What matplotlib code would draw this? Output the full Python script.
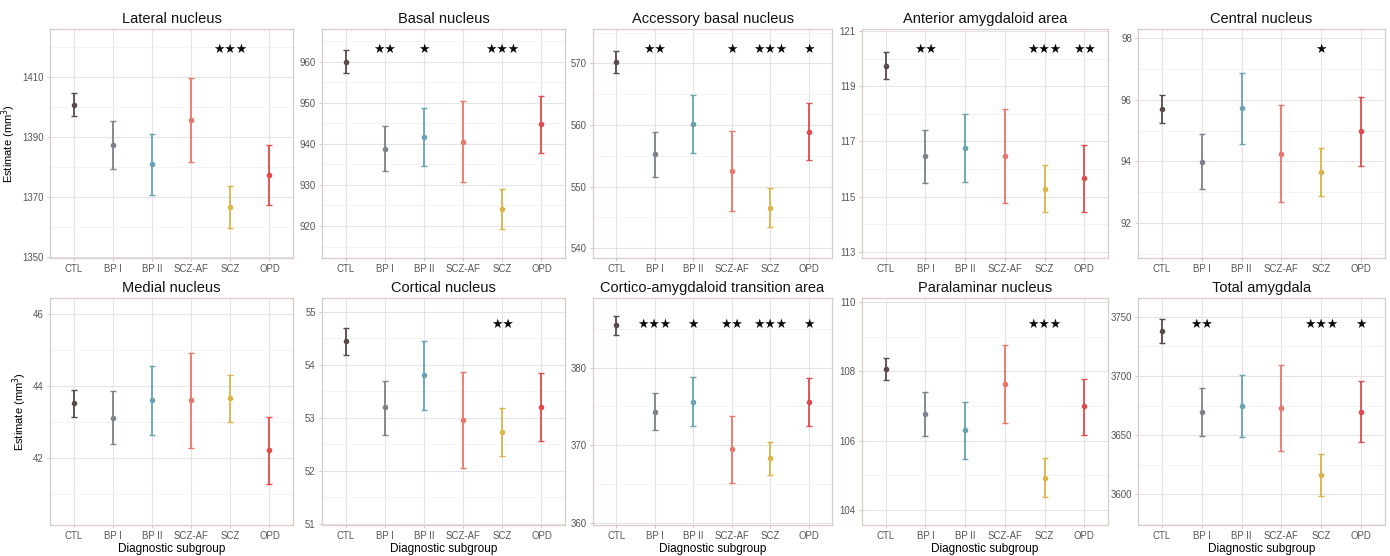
import matplotlib
matplotlib.use("Agg")
import matplotlib.pyplot as plt
import numpy as np
from matplotlib.ticker import MultipleLocator

plt.rcParams['font.family'] = ['Liberation Sans', 'DejaVu Sans']

groups = ["CTL", "BP I", "BP II", "SCZ-AF", "SCZ", "OPD"]
colors = ["#5b4a47", "#7d838c", "#6aa2b3", "#e8776c", "#dcb54a", "#e04b4b"]

regions = ["Lateral nucleus", "Basal nucleus", "Accessory basal nucleus",
           "Anterior amygdaloid area", "Central nucleus",
           "Medial nucleus", "Cortical nucleus", "Cortico-amygdaloid transition area",
           "Paralaminar nucleus", "Total amygdala"]

lateral_est = [1400.7, 1387.3, 1381.0, 1395.7, 1366.7, 1377.2]
lateral_lo = [1396.9, 1379.3, 1370.8, 1381.7, 1359.7, 1367.2]
lateral_hi = [1404.7, 1395.2, 1391.1, 1409.8, 1373.7, 1387.3]

basal_est = [960.0, 938.8, 941.8, 940.5, 924.2, 944.8]
basal_lo = [957.3, 933.3, 934.7, 930.8, 919.3, 937.9]
basal_hi = [962.9, 944.3, 948.8, 950.4, 929.0, 951.7]

accbasal_est = [570.2, 555.3, 560.1, 552.5, 546.6, 558.9]
accbasal_lo = [568.4, 551.6, 555.4, 546.0, 543.4, 554.3]
accbasal_hi = [572.1, 558.9, 564.8, 559.0, 549.8, 563.5]

anterior_est = [119.74, 116.47, 116.77, 116.47, 115.28, 115.66]
anterior_lo = [119.25, 115.51, 115.52, 114.77, 114.45, 114.45]
anterior_hi = [120.22, 117.42, 117.99, 118.16, 116.13, 116.86]

central_est = [95.69, 93.99, 95.73, 94.25, 93.65, 94.97]
central_lo = [95.25, 93.10, 94.58, 92.69, 92.86, 93.85]
central_hi = [96.14, 94.89, 96.86, 95.83, 94.43, 96.09]

medial_est = [43.52, 43.12, 43.60, 43.60, 43.66, 42.22]
medial_lo = [43.15, 42.39, 42.65, 42.29, 43.01, 41.29]
medial_hi = [43.89, 43.86, 44.55, 44.91, 44.31, 43.14]

cortical_est = [54.44, 53.20, 53.80, 52.96, 52.73, 53.20]
cortical_lo = [54.19, 52.68, 53.14, 52.06, 52.28, 52.57]
cortical_hi = [54.70, 53.70, 54.45, 53.86, 53.18, 53.85]

cat_est = [385.46, 374.32, 375.61, 369.51, 368.30, 375.57]
cat_lo = [384.17, 371.91, 372.43, 365.16, 366.11, 372.43]
cat_hi = [386.62, 376.77, 378.75, 373.81, 370.45, 378.62]

paralaminar_est = [108.07, 106.76, 106.30, 107.63, 104.94, 106.99]
paralaminar_lo = [107.76, 106.13, 105.48, 106.50, 104.38, 106.18]
paralaminar_hi = [108.40, 107.40, 107.12, 108.77, 105.50, 107.78]

total_est = [3738.4, 3669.6, 3674.7, 3673.3, 3616.7, 3669.9]
total_lo = [3727.9, 3649.5, 3648.4, 3636.8, 3598.9, 3644.2]
total_hi = [3748.0, 3689.7, 3701.0, 3709.2, 3634.2, 3695.7]

stars = [
    ["", "", "", "", "***", ""],
    ["", "**", "*", "", "***", ""],
    ["", "**", "", "*", "***", "*"],
    ["", "**", "", "", "***", "**"],
    ["", "", "", "", "*", ""],
    ["", "", "", "", "", ""],
    ["", "", "", "", "**", ""],
    ["", "***", "*", "**", "***", "*"],
    ["", "", "", "", "***", ""],
    ["", "**", "", "", "***", "*"],
]

est_all = [lateral_est, basal_est, accbasal_est, anterior_est, central_est,
           medial_est, cortical_est, cat_est, paralaminar_est, total_est]
lo_all = [lateral_lo, basal_lo, accbasal_lo, anterior_lo, central_lo,
          medial_lo, cortical_lo, cat_lo, paralaminar_lo, total_lo]
hi_all = [lateral_hi, basal_hi, accbasal_hi, anterior_hi, central_hi,
          medial_hi, cortical_hi, cat_hi, paralaminar_hi, total_hi]

# axis settings (limits, major step, tick offset)
ylims = [(1349.7, 1426.0), (912.2, 968.0), (538.4, 575.6), (112.78, 121.07), (90.86, 98.3),
         (40.14, 46.44), (50.98, 55.26), (359.7, 389.0), (103.57, 110.12), (3574, 3766)]
steps = [20, 10, 10, 2, 2, 2, 1, 10, 2, 50]
offsets = [10, 0, 0, 1, 0, 0, 0, 0, 0, 0]

W, H = 1390, 556
fig = plt.figure(figsize=(W / 100, H / 100), dpi=100)

col_lr = [(50, 293), (322, 565), (593, 832), (862, 1108), (1138, 1385)]
row_tb = [(29, 258), (298, 525)]

x = np.arange(len(groups))
for i in range(10):
    r, c = divmod(i, 5)
    l, rr = col_lr[c]
    t, b = row_tb[r]
    ax = fig.add_axes([l / W, 1 - b / H, (rr - l) / W, (b - t) / H])
    for j in range(len(groups)):
        e = est_all[i][j]
        ax.errorbar(x[j], e, yerr=[[e - lo_all[i][j]], [hi_all[i][j] - e]],
                    fmt='o', color=colors[j], ms=3.0, elinewidth=1.3,
                    capsize=2.2, capthick=1.0, zorder=3)
    ax.set_xlim(-0.6, 5.6)
    ax.set_ylim(*ylims[i])
    ax.set_xticks(x)
    ax.set_xticklabels(groups)
    ax.yaxis.set_major_locator(MultipleLocator(steps[i], offset=offsets[i]))
    ax.yaxis.set_minor_locator(MultipleLocator(steps[i] / 2, offset=offsets[i]))
    ax.grid(True, which='major', color='#e4e4e4', lw=0.8, zorder=0)
    ax.grid(True, which='minor', axis='y', color='#f1f1f1', lw=0.6, zorder=0)
    ax.set_axisbelow(True)
    ax.tick_params(axis='both', which='major', labelsize=6.9, colors='#c8b8b4',
                   labelcolor='#555555', length=2.5, width=0.6, pad=2)
    ax.tick_params(axis='y', which='minor', length=0)
    for s in ax.spines.values():
        s.set_color('#dccbc6')
        s.set_linewidth(0.9)
    ax.set_title(regions[i], fontsize=10.5, pad=4, color='#111111')
    ystar = 0.912 if r == 0 else 0.883
    for j in range(len(groups)):
        if stars[i][j]:
            ax.text(x[j], ystar, "\u2605" * len(stars[i][j]),
                    transform=ax.get_xaxis_transform(),
                    ha='center', va='center', fontsize=9.2,
                    color='#0a0a0a', family=['DejaVu Sans'])
    if c == 0:
        ax.set_ylabel("Estimate (mm$^3$)", fontsize=8, labelpad=3)
    if r == 1:
        ax.set_xlabel("Diagnostic subgroup", fontsize=8.5, labelpad=1)

fig.savefig("out.png", dpi=100, facecolor='white')
